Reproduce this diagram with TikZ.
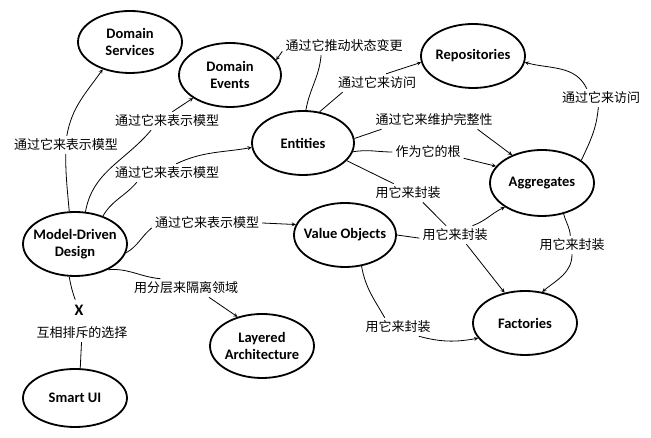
\documentclass[tikz,border=0pt]{standalone}
\usepackage{fontspec}
\setmainfont{Carlito}
\newfontfamily\cjk{Noto Sans CJK SC}
\usetikzlibrary{shapes.geometric}
\begin{document}
\begin{tikzpicture}[
    x=1pt, y=1pt,
    concept/.style={draw, ellipse, line width=1.8pt, minimum width=104pt, minimum height=64pt, inner xsep=-8pt, align=center, font=\fontsize{14.5}{17.5}\selectfont\bfseries},
    lbl/.style={inner sep=3pt, font=\fontsize{13}{15}\selectfont\cjk},
    link/.style={line width=0.8pt},
    arrow/.style={link, ->, >=stealth}
]
    \useasboundingbox (0,0) rectangle (651,438);

    % Concepts
    \node[concept] (mdd) at (75,194) {Model-Driven\\Design};
    \node[concept, minimum height=62pt] (ds) at (130,396) {Domain\\Services};
    \node[concept, minimum width=102pt] (de) at (230,363) {Domain\\Events};
    \node[concept, minimum width=102pt] (ent) at (303,295) {Entities};
    \node[concept] (rep) at (473,382) {Repositories};
    \node[concept, minimum height=66pt] (agg) at (542,255) {Aggregates};
    \node[concept, minimum width=102pt] (vo) at (345,203) {Value Objects};
    \node[concept] (la) at (262,92) {Layered\\Architecture};
    \node[concept, minimum height=58pt] (ui) at (75,40) {Smart UI};
    \node[concept] (fac) at (525,115) {Factories};

    % Labels
    \node[lbl] (lDS) at (66,293) {通过它来表示模型};
    \node[lbl] (lDE1) at (167,317) {通过它来表示模型};
    \node[lbl] (lEnt1) at (167,265) {通过它来表示模型};
    \node[lbl] (lVO1) at (207,215) {通过它来表示模型};
    \node[lbl] (lLA) at (186,150) {用分层来隔离领域};
    \node[inner sep=5pt, font=\fontsize{16}{18}\selectfont\bfseries] (xmark) at (79,128) {X};
    \node[lbl] (lUI) at (82,105) {互相排斥的选择};
    \node[lbl] (lDE2) at (344,392) {通过它推动状态变更};
    \node[lbl] (lRep1) at (377,355) {通过它来访问};
    \node[lbl] (lAgg1) at (434,318) {通过它来维护完整性};
    \node[lbl] (lAgg2) at (428,286) {作为它的根};
    \node[lbl] (lFac1) at (408,245) {用它来封装};
    \node[lbl] (lFac2) at (455,203) {用它来封装};
    \node[lbl] (lRep2) at (601,340) {通过它来访问};
    \node[lbl] (lAgg3) at (572,193) {用它来封装};
    \node[lbl] (lFac3) at (398,111) {用它来封装};

    % Model-Driven Design
    \draw[link] (mdd.100) to[out=95,in=-90] (lDS.-92);
    \draw[arrow] (lDS.85) to[out=80,in=-125] (ds.-135);
    \draw[link] (mdd.72) to[out=80,in=-130] (lDE1.-150);
    \draw[arrow] (lDE1.60) -- (de.-148);
    \draw[link] (mdd.45) to[out=60,in=-130] (lEnt1.-163);
    \draw[arrow] (lEnt1.45) to[out=25,in=190] (ent.185);
    \draw[link] (mdd.-10) to[out=30,in=-140] (lVO1.-175);
    \draw[arrow] (lVO1.east) -- (vo.168);
    \draw[link] (mdd.-38) to[out=5,in=175] (lLA.160);
    \draw[arrow] (lLA.-22) -- (la.130);
    \draw[link] (mdd.-100) to[out=-80,in=110] (xmark);
    \draw[link] (lUI.-93) -- (ui.80);

    % Entities
    \draw[link] (ent.85) to[out=80,in=-95] (lDE2.-158);
    \draw[arrow] (lDE2.185) -- (de.18);
    \draw[link] (ent.62) -- (lRep1.-165);
    \draw[arrow] (lRep1.45) -- (rep.187);
    \draw[link] (ent.5) -- (lAgg1.190);
    \draw[arrow] (lAgg1.-12) -- (agg.137);
    \draw[link] (ent.-10) to[out=10,in=180] (lAgg2.west);
    \draw[arrow] (lAgg2.-10) -- (agg.160);
    \draw[link] (ent.-22) -- (lFac1.147);
    \draw[link] (lFac1.-32) -- (lFac2.134);
    \draw[arrow] (lFac2.-39) -- (fac.124);

    % Value Objects
    \draw[link] (vo.east) -- (lFac2.185);
    \draw[arrow] (lFac2.28) to[out=20,in=205] (agg.-147);
    \draw[link] (vo.-62) to[out=-80,in=120] (lFac3.145);
    \draw[arrow] (lFac3.-24) to[out=-15,in=190] (fac.-162);

    % Aggregates
    \draw[link] (agg.30) to[out=65,in=-95] (lRep2.-106);
    \draw[arrow] (lRep2.147) to[out=115,in=-15] (rep.-7);
    \draw[link] (agg.-55) to[out=-75,in=95] (lAgg3.100);
    \draw[arrow] (lAgg3.-90) to[out=-90,in=40] (fac.61);
\end{tikzpicture}
\end{document}
